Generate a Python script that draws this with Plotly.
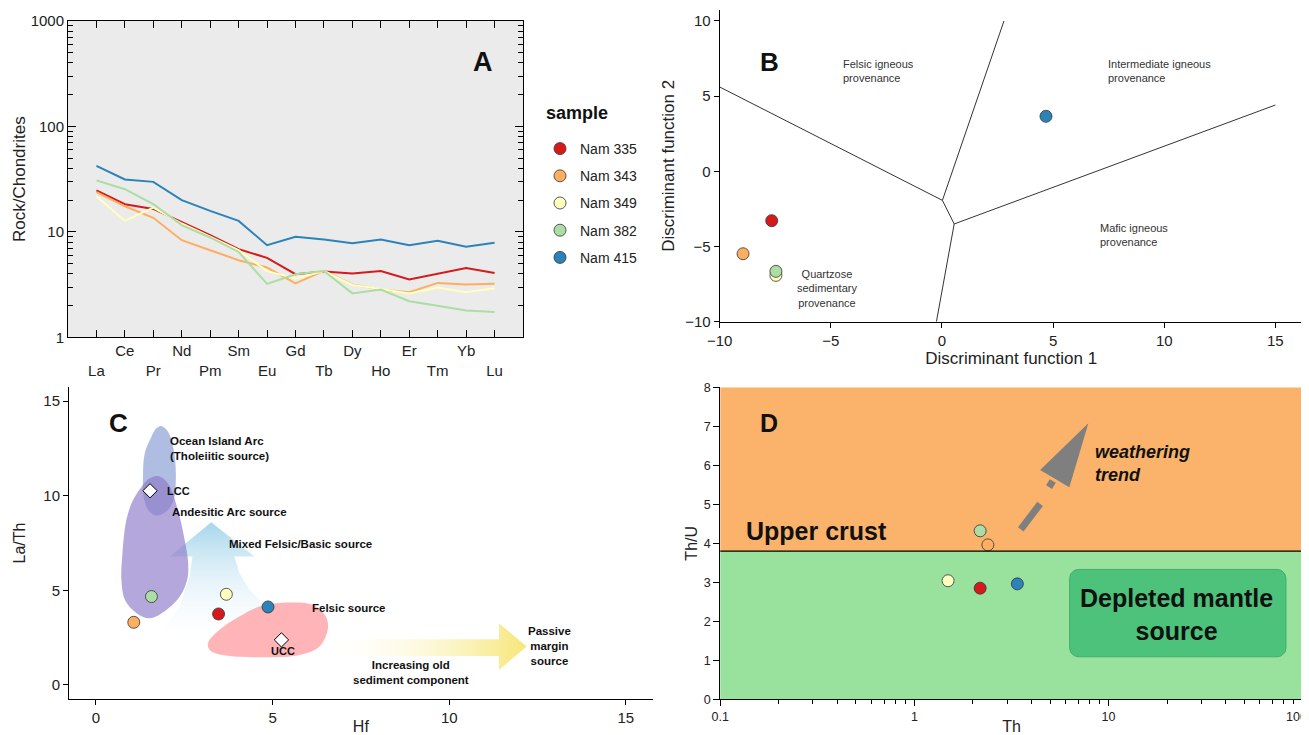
import math
import plotly.graph_objects as go

FONT = "Liberation Sans, Arial, sans-serif"

# ---------------- Panel A data ----------------
elements = ["La", "Ce", "Pr", "Nd", "Pm", "Sm", "Eu", "Gd", "Tb", "Dy", "Ho", "Er", "Tm", "Yb", "Lu"]
samples = ["Nam 335", "Nam 343", "Nam 349", "Nam 382", "Nam 415"]
colors = ["#d7191c", "#fdae61", "#ffffbf", "#abdda4", "#2b83ba"]
ree_335 = [24.7, 18.3, 16.5, 12.4, 9.3, 6.86, 5.67, 3.97, 4.21, 4.03, 4.26, 3.53, 4.0, 4.53, 4.08]
ree_343 = [23.8, 17.5, 13.6, 8.34, 6.7, 5.39, 4.59, 3.24, 4.26, 3.17, 2.84, 2.68, 3.28, 3.16, 3.22]
ree_349 = [21.8, 12.7, 17.0, 12.0, 9.0, 6.7, 4.24, 3.61, 4.24, 3.14, 2.87, 2.61, 2.97, 2.68, 2.92]
ree_382 = [30.8, 25.4, 18.3, 11.6, 8.85, 6.45, 3.21, 3.96, 4.26, 2.61, 2.84, 2.2, 1.99, 1.8, 1.74]
ree_415 = [42.3, 31.4, 29.8, 20.0, 15.8, 12.7, 7.48, 8.97, 8.47, 7.82, 8.47, 7.48, 8.22, 7.21, 7.87]
a_yticks = [1, 10, 100, 1000]

# ---------------- Panel B data ----------------
df1 = [-7.66, -8.95, -7.47, -7.47, 4.68]
df2 = [-3.28, -5.48, -6.92, -6.65, 3.66]
b_bound_x = [-10, 0.02, 2.79, None, 0.02, 0.55, None, -0.25, 0.55, 15]
b_bound_y = [5.61, -1.93, 10, None, -1.93, -3.5, None, -10, -3.5, 4.41]
b_ticks_x = [-10, -5, 0, 5, 10, 15]
b_ticks_y = [-10, -5, 0, 5, 10]

# ---------------- Panel C data ----------------
hf = [3.47, 1.07, 3.69, 1.57, 4.87]
la_th = [3.75, 3.31, 4.79, 4.67, 4.12]
ref_names = ["LCC", "UCC"]
ref_hf = [1.53, 5.25]
ref_la_th = [10.26, 2.38]
oia_x = [1.85, 2.04, 2.16, 2.24, 2.26, 2.20, 1.99, 1.71, 1.48, 1.35, 1.33, 1.38, 1.57, 1.71, 1.85]
oia_y = [13.68, 13.38, 12.77, 11.89, 10.83, 9.77, 9.16, 8.95, 9.24, 9.95, 11.01, 12.24, 13.12, 13.56, 13.68]
and_x = [1.76, 2.04, 2.32, 2.51, 2.61, 2.58, 2.37, 1.99, 1.52, 1.15, 0.82, 0.72, 0.75, 0.86, 1.05, 1.33, 1.52, 1.76]
and_y = [11.04, 10.65, 9.24, 7.66, 6.43, 5.55, 4.67, 3.96, 3.52, 3.79, 4.49, 5.55, 6.96, 8.72, 9.77, 10.57, 10.92, 11.04]
mix_x = [3.26, 4.49, 3.92, 4.06, 4.35, 4.83, 5.6, 6.5, 7.58, 1.55, 1.90, 2.37, 2.65, 2.73, 2.09, 3.26]
mix_y = [8.59, 6.78, 6.78, 5.90, 5.02, 4.14, 3.2, 2.5, 1.94, 2.02, 2.91, 4.14, 5.72, 6.78, 6.78, 8.59]
fel_x = [3.17, 3.50, 4.06, 4.63, 5.38, 6.14, 6.51, 6.56, 6.32, 5.76, 4.63, 3.59, 3.22, 3.17]
fel_y = [2.20, 2.91, 3.61, 4.14, 4.35, 4.23, 3.61, 2.91, 2.02, 1.58, 1.46, 1.58, 1.85, 2.20]
yarr_x = [6.14, 11.41, 11.41, 12.19, 11.41, 11.41, 6.14, 6.14]
yarr_y = [1.53, 1.53, 0.79, 2.03, 3.26, 2.41, 2.41, 1.53]
c_ticks = [0, 5, 10, 15]

# ---------------- Panel D data ----------------
th = [2.18, 2.39, 1.49, 2.18, 3.39]
th_u = [2.85, 3.96, 3.04, 4.32, 2.96]
crust_boundary = 3.8
mantle_box_x = [6.3, 82]
mantle_box_y = [1.09, 3.33]
arrow_head_x = [7.87, 4.44, 6.28, 7.87]
arrow_head_y = [7.08, 5.88, 5.44, 7.08]
arrow_dash_x = [3.53, 4.44, None, 4.94, 5.16]
arrow_dash_y = [4.36, 5.01, None, 5.44, 5.60]
d_xticks = [0.1, 1, 10, 100]
d_xticklabels = ["0.1", "1", "10", "100"]
d_yticks = [0, 1, 2, 3, 4, 5, 6, 7, 8]

# page layout helpers (the page body adds an 8px offset)
OFF = 8
W, H = 1309 - OFF, 735 - OFF
def px(X):
    return (X - OFF) / W
def py(Y):
    return 1 - (Y - OFF) / H

fig = go.Figure()
marker_line = dict(color="#333333", width=0.8)

# ---- A: REE lines
for name, col, vals in zip(samples, colors, [ree_335, ree_343, ree_349, ree_382, ree_415]):
    fig.add_trace(go.Scatter(x=elements, y=vals, mode="lines", line=dict(color=col, width=2),
                             xaxis="x", yaxis="y", showlegend=False, hoverinfo="skip"))
for name, col in zip(samples, colors):
    fig.add_trace(go.Scatter(x=[None], y=[None], mode="markers", name=name, legendgroup=name,
                             marker=dict(color=col, size=12, line=marker_line),
                             xaxis="x", yaxis="y"))

# ---- B
fig.add_trace(go.Scatter(x=b_bound_x, y=b_bound_y, mode="lines", line=dict(color="#333333", width=1),
                         xaxis="x2", yaxis="y2", showlegend=False, hoverinfo="skip"))
for i in range(len(samples)):
    fig.add_trace(go.Scatter(x=[df1[i]], y=[df2[i]], mode="markers",
                             marker=dict(color=colors[i], size=12, line=marker_line),
                             xaxis="x2", yaxis="y2", showlegend=False))

# ---- C shapes
fig.add_trace(go.Scatter(x=mix_x, y=mix_y, mode="lines", fill="toself", line=dict(width=0),
                         fillgradient=dict(type="vertical",
                                           colorscale=[[0, "rgba(255,255,255,0)"], [1, "rgb(166,214,236)"]]),
                         xaxis="x3", yaxis="y3", showlegend=False, hoverinfo="skip"))
fig.add_trace(go.Scatter(x=yarr_x, y=yarr_y, mode="lines", fill="toself", line=dict(width=0),
                         fillgradient=dict(type="horizontal",
                                           colorscale=[[0, "rgba(255,255,255,0)"], [1, "rgb(247,230,120)"]]),
                         xaxis="x3", yaxis="y3", showlegend=False, hoverinfo="skip"))
fig.add_trace(go.Scatter(x=fel_x, y=fel_y, mode="lines", fill="toself", line=dict(width=0, shape="spline"),
                         fillcolor="rgb(255,180,183)",
                         xaxis="x3", yaxis="y3", showlegend=False, hoverinfo="skip"))
fig.add_trace(go.Scatter(x=oia_x, y=oia_y, mode="lines", fill="toself", line=dict(width=0, shape="spline"),
                         fillcolor="rgba(120,145,205,0.6)",
                         xaxis="x3", yaxis="y3", showlegend=False, hoverinfo="skip"))
fig.add_trace(go.Scatter(x=and_x, y=and_y, mode="lines", fill="toself", line=dict(width=0, shape="spline"),
                         fillcolor="rgba(140,120,200,0.65)",
                         xaxis="x3", yaxis="y3", showlegend=False, hoverinfo="skip"))
fig.add_trace(go.Scatter(x=ref_hf, y=ref_la_th, mode="markers",
                         marker=dict(symbol="diamond", color="white", size=11, line=dict(color="black", width=1)),
                         xaxis="x3", yaxis="y3", showlegend=False))
for i in range(len(samples)):
    fig.add_trace(go.Scatter(x=[hf[i]], y=[la_th[i]], mode="markers",
                             marker=dict(color=colors[i], size=12, line=marker_line),
                             xaxis="x3", yaxis="y3", showlegend=False))

# ---- D
def rounded_box(xr, yr, rpx=9, px_dec=194.1, px_unit=39.0, n=8):
    lx0, lx1 = math.log10(xr[0]), math.log10(xr[1])
    rx, ry = rpx / px_dec, rpx / px_unit
    xs, ys = [], []
    corners = [(lx1 - rx, yr[1] - ry, 0), (lx0 + rx, yr[1] - ry, 90),
               (lx0 + rx, yr[0] + ry, 180), (lx1 - rx, yr[0] + ry, 270)]
    for cx, cy, a0 in corners:
        for k in range(n + 1):
            a = math.radians(a0 + 90 * k / n)
            xs.append(10 ** (cx + rx * math.cos(a)))
            ys.append(cy + ry * math.sin(a))
    xs.append(xs[0]); ys.append(ys[0])
    return xs, ys

bx, by = rounded_box(mantle_box_x, mantle_box_y)
fig.add_trace(go.Scatter(x=bx, y=by, mode="lines", fill="toself", fillcolor="rgb(76,194,122)",
                         line=dict(color="rgb(70,172,110)", width=1),
                         xaxis="x4", yaxis="y4", showlegend=False, hoverinfo="skip"))
fig.add_trace(go.Scatter(x=arrow_dash_x, y=arrow_dash_y, mode="lines",
                         line=dict(color="rgb(127,127,127)", width=7),
                         xaxis="x4", yaxis="y4", showlegend=False, hoverinfo="skip"))
fig.add_trace(go.Scatter(x=arrow_head_x, y=arrow_head_y, mode="lines", fill="toself",
                         fillcolor="rgb(127,127,127)", line=dict(width=0),
                         xaxis="x4", yaxis="y4", showlegend=False, hoverinfo="skip"))
for i in range(len(samples)):
    fig.add_trace(go.Scatter(x=[th[i]], y=[th_u[i]], mode="markers",
                             marker=dict(color=colors[i], size=12, line=marker_line),
                             xaxis="x4", yaxis="y4", showlegend=False))

# ---------------- Layout ----------------
def base_axis(**kw):
    d = dict(showline=True, linecolor="black", linewidth=1, showgrid=False, zeroline=False,
             automargin=False,
             ticks="outside", tickcolor="black", ticklen=5, tickfont=dict(size=15, color="#222"))
    d.update(kw)
    return d

a_ticktext = [("<br>" + e) if i % 2 == 0 else e for i, e in enumerate(elements)]
# the last D tick label sits on the page edge: it is drawn right-aligned as an annotation
d_ticktext_axis = d_xticklabels[:-1] + [""]

layout = dict(
    width=W, height=H, margin=dict(l=0, r=0, t=0, b=0, pad=0, autoexpand=False),
    paper_bgcolor="white", plot_bgcolor="white",
    font=dict(family=FONT, color="#222"),
    showlegend=True,
    legend=dict(x=px(540), y=py(133), xanchor="left", yanchor="top",
                font=dict(size=14, color="#222"), tracegroupgap=6, bgcolor="rgba(0,0,0,0)"),
    xaxis=base_axis(domain=[px(68), px(523)], type="category", range=[-1, 14 + 1],
                    tickmode="array", tickvals=elements, ticktext=a_ticktext,
                    ticks="inside", ticklen=7, mirror="ticks", anchor="y"),
    yaxis=base_axis(domain=[py(337.3), py(21)], type="log", range=[0, 3],
                    tickmode="array", tickvals=a_yticks, ticktext=[str(v) for v in a_yticks],
                    ticks="inside", ticklen=8, mirror="ticks", anchor="x",
                    minor=dict(ticks="inside", ticklen=5, dtick="D1", tickcolor="black", showgrid=False),
                    title=dict(text="Rock/Chondrites", font=dict(size=17), standoff=0)),
    xaxis2=base_axis(domain=[px(719.7), px(1302.7)], range=[-10, 16.23], tickmode="array", tickvals=b_ticks_x,
                     anchor="y2", title=dict(text="Discriminant function 1", font=dict(size=17), standoff=0)),
    yaxis2=base_axis(domain=[py(321.7), py(10)], range=[-10, 10.73], tickmode="array", tickvals=b_ticks_y,
                     anchor="x2", title=dict(text="Discriminant function 2", font=dict(size=17), standoff=6)),
    xaxis3=base_axis(domain=[px(69), px(652.7)], range=[-0.764, 15.76], tickmode="array", tickvals=c_ticks,
                     anchor="y3", title=dict(text="Hf", font=dict(size=16), standoff=4)),
    yaxis3=base_axis(domain=[py(699.3), py(386.7)], range=[-0.76, 15.76], tickmode="array", tickvals=c_ticks,
                     anchor="x3", title=dict(text="La/Th", font=dict(size=16), standoff=13)),
    xaxis4=base_axis(domain=[px(720.3), px(1302.7)], type="log", range=[-1, 2], tickmode="array",
                     tickvals=d_xticks, ticktext=d_ticktext_axis, ticklen=6, tickfont=dict(size=12.5, color="#222"),
                     minor=dict(ticks="outside", ticklen=4, dtick="D1", tickcolor="black", showgrid=False),
                     anchor="y4", title=dict(text="Th", font=dict(size=16), standoff=2)),
    yaxis4=base_axis(domain=[py(699.3), py(387.3)], range=[0, 8], tickmode="array", tickvals=d_yticks,
                     ticklen=6, tickfont=dict(size=12.5, color="#222"),
                     anchor="x4", title=dict(text="Th/U", font=dict(size=16), standoff=2)),
)

shapes = [
    dict(type="rect", xref="x domain", yref="y domain", x0=0, x1=1, y0=0, y1=1,
         fillcolor="#EBEBEB", line=dict(width=0), layer="below"),
    dict(type="rect", xref="x4 domain", yref="y4", x0=0, x1=1, y0=crust_boundary, y1=8,
         fillcolor="#FBB36B", line=dict(width=0), layer="below"),
    dict(type="rect", xref="x4 domain", yref="y4", x0=0, x1=1, y0=0, y1=crust_boundary,
         fillcolor="#98E29E", line=dict(width=0), layer="below"),
    dict(type="line", xref="x4 domain", yref="y4", x0=0, x1=1, y0=crust_boundary, y1=crust_boundary,
         line=dict(color="black", width=1.2)),
]

ann = []
def add_ann(text, x, y, xref, yref, size, bold=False, italic=False, xanchor="left", yanchor="middle",
            align="left", color="#111"):
    t = text
    if bold:
        t = "<b>" + t + "</b>"
    if italic:
        t = "<i>" + t + "</i>"
    ann.append(dict(text=t, x=x, y=y, xref=xref, yref=yref, showarrow=False, xanchor=xanchor,
                    yanchor=yanchor, align=align, font=dict(size=size, color=color, family=FONT)))

# legend title
add_ann("sample", px(544), py(113), "paper", "paper", 18, bold=True)

# D last x tick label (right-aligned at the page edge)
add_ann(d_xticklabels[-1], 1.0, py(716.5), "paper", "paper", 12.5, xanchor="right", color="#222")

# panel letters
add_ann("A", px(483), py(62), "paper", "paper", 27, bold=True, xanchor="center")
add_ann("B", px(769.6), py(61.7), "paper", "paper", 26, bold=True, xanchor="center")
add_ann("C", px(118.4), py(423.3), "paper", "paper", 26, bold=True, xanchor="center")
add_ann("D", px(769), py(423.3), "paper", "paper", 25, bold=True, xanchor="center")

# B labels
bcol = "#333333"
add_ann("Felsic igneous<br>provenance", -4.54, 6.65, "x2", "y2", 11, color=bcol)
add_ann("Intermediate igneous<br>provenance", 7.36, 6.65, "x2", "y2", 11, color=bcol)
add_ann("Mafic igneous<br>provenance", 7.0, -4.22, "x2", "y2", 11, color=bcol)
add_ann("Quartzose<br>sedimentary<br>provenance", -5.19, -7.76, "x2", "y2", 11, xanchor="center",
        align="center", color=bcol)

# C labels
add_ann("Ocean Island Arc<br>(Tholeiitic source)", 2.05, 12.49, "x3", "y3", 11.5, bold=True)
add_ann("LCC", 1.95, 10.26, "x3", "y3", 11, bold=True)
add_ann("Andesitic Arc source", 2.1, 9.12, "x3", "y3", 11.5, bold=True)
add_ann("Mixed Felsic/Basic source", 3.72, 7.45, "x3", "y3", 11.5, bold=True)
add_ann("Felsic source", 6.05, 4.05, "x3", "y3", 11.5, bold=True)
add_ann("UCC", 5.28, 1.8, "x3", "y3", 11, bold=True, xanchor="center")
add_ann("Increasing old<br>sediment component", 8.92, 0.66, "x3", "y3", 11.5, bold=True,
        xanchor="center", align="center")
add_ann("Passive<br>margin<br>source", 12.85, 2.08, "x3", "y3", 11.5, bold=True,
        xanchor="center", align="center")

# D labels (log axis -> log10 positions)
add_ann("Upper crust", math.log10(0.133), 4.32, "x4", "y4", 25, bold=True)
add_ann("Depleted mantle<br>source", math.log10(22.5), 2.18, "x4", "y4", 25, bold=True,
        xanchor="center", align="center")
add_ann("weathering<br>trend", math.log10(8.27), 6.05, "x4", "y4", 18, bold=True, italic=True)

layout["shapes"] = shapes
layout["annotations"] = ann
fig.update_layout(**layout)

fig.write_html("out.html")
